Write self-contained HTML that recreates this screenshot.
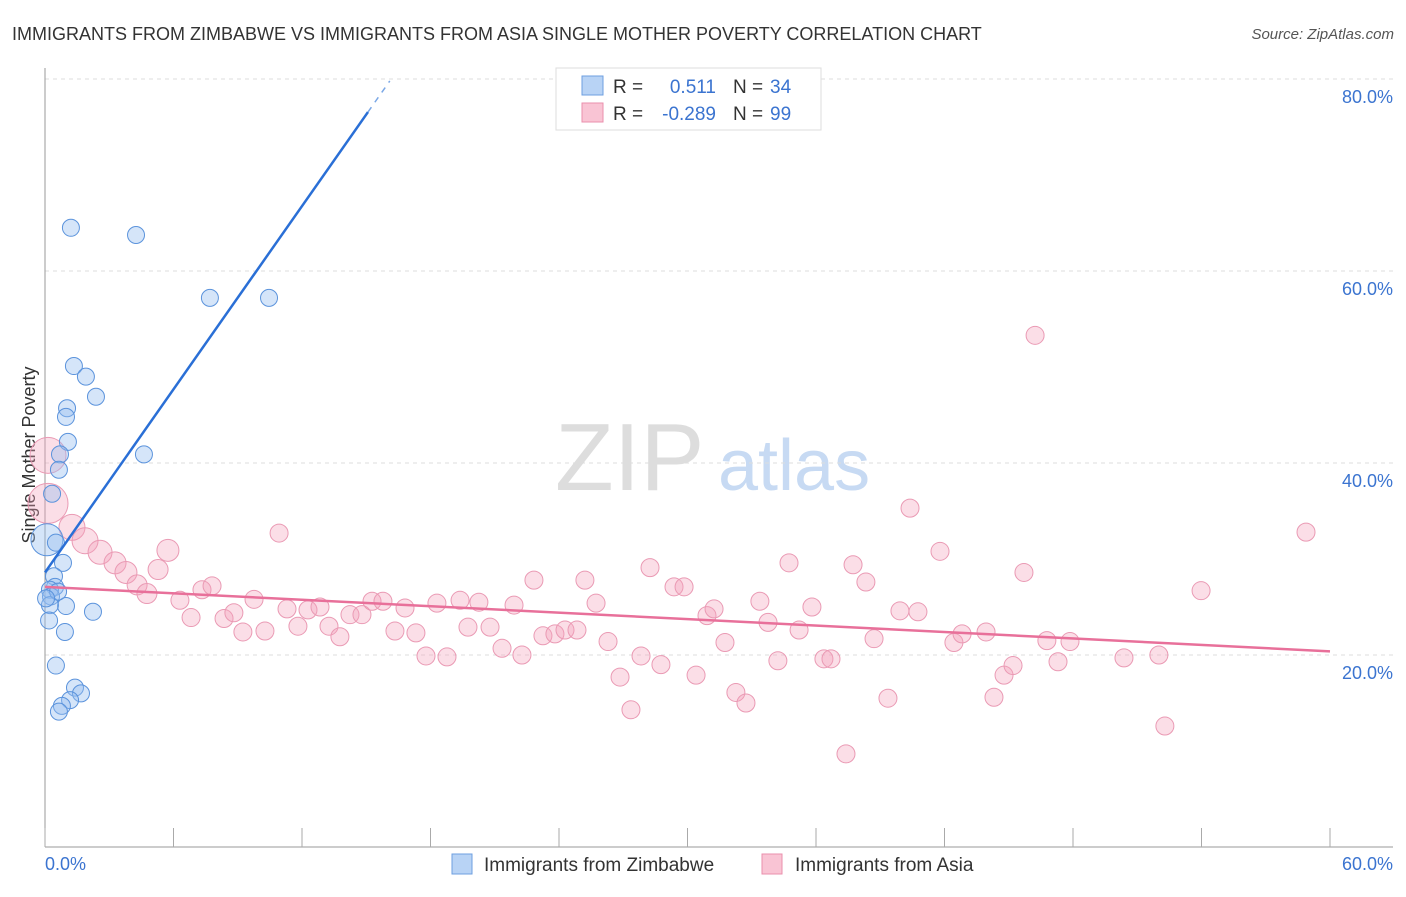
<!DOCTYPE html>
<html><head><meta charset="utf-8"><style>
body{margin:0;background:#fff;font-family:"Liberation Sans",sans-serif;}
svg text{font-family:"Liberation Sans",sans-serif;}
</style></head><body>
<svg width="1406" height="892" xmlns="http://www.w3.org/2000/svg">
<text x="12" y="40" font-size="18" fill="#333">IMMIGRANTS FROM ZIMBABWE VS IMMIGRANTS FROM ASIA SINGLE MOTHER POVERTY CORRELATION CHART</text>
<text x="1394" y="39" font-size="15" fill="#555" font-style="italic" text-anchor="end">Source: ZipAtlas.com</text>
<g>
<text x="555" y="490" font-size="96" fill="#ddd" font-family="Liberation Serif">ZIP</text>
<text x="718" y="490" font-size="72" fill="#c7daf3">atlas</text>
</g>
<g id="grid"></g>
<g id="axes"></g>
<text x="35" y="455" font-size="18" fill="#333" text-anchor="middle" transform="rotate(-90 35 455)">Single Mother Poverty</text>
<g id="pts"></g>
<g id="trends"></g>
<g>
<rect x="556" y="68" width="265" height="62" fill="#fff" stroke="#ddd"/>
<rect x="582" y="76" width="21" height="19" fill="#b8d3f5" stroke="#6e9fe0"/>
<rect x="582" y="103" width="21" height="19" fill="#f9c4d4" stroke="#ea8fac"/>
<text x="613" y="93" font-size="19" fill="#333">R =</text>
<text x="716" y="93" font-size="19" fill="#3b74d0" text-anchor="end">0.511</text>
<text x="733" y="93" font-size="19" fill="#333">N =</text>
<text x="770" y="93" font-size="19" fill="#3b74d0">34</text>
<text x="613" y="120" font-size="19" fill="#333">R =</text>
<text x="716" y="120" font-size="19" fill="#3b74d0" text-anchor="end">-0.289</text>
<text x="733" y="120" font-size="19" fill="#333">N =</text>
<text x="770" y="120" font-size="19" fill="#3b74d0">99</text>
</g>
<g>
<rect x="452" y="854" width="20" height="20" fill="#b8d3f5" stroke="#6e9fe0"/>
<text x="484" y="871" font-size="19" fill="#333">Immigrants from Zimbabwe</text>
<rect x="762" y="854" width="20" height="20" fill="#f9c4d4" stroke="#ea8fac"/>
<text x="795" y="871" font-size="19" fill="#333">Immigrants from Asia</text>
</g>
</svg>
<script>
const yTicks=[20,40,60,80];
const yTickLabels=["20.0%","40.0%","60.0%","80.0%"];
const xTickLabels=["0.0%","60.0%"];
const blueX=[1.21,4.25,7.70,10.46,1.35,1.91,2.38,1.03,0.98,1.07,0.70,4.62,0.65,0.33,0.09,0.51,0.84,0.42,0.47,0.23,0.28,0.98,2.24,0.23,0.19,0.93,0.51,1.40,1.68,1.17,0.79,0.65,0.61,0.05];
const blueY=[64.5,63.75,57.2,57.2,50.1,49.0,46.9,45.7,44.8,42.2,40.9,40.9,39.3,36.8,32.0,31.7,29.6,28.2,27.1,26.8,26.1,25.1,24.5,25.2,23.6,22.4,18.9,16.6,16.0,15.3,14.7,14.1,26.6,25.9];
const pinkX=[0.14,0.14,1.26,1.87,2.57,3.27,3.78,4.30,4.76,5.28,5.74,6.30,6.82,7.33,7.80,8.36,8.82,9.24,9.76,10.27,10.93,11.30,11.81,12.28,12.84,13.26,13.77,14.24,14.80,15.27,15.78,16.34,16.81,17.32,17.79,18.30,18.77,19.38,19.75,20.26,20.78,21.34,21.90,22.27,22.83,23.25,23.81,24.28,24.84,25.21,25.73,26.29,26.85,27.36,27.83,28.25,28.76,29.37,29.84,30.40,30.91,31.24,31.75,32.26,32.73,33.38,33.76,34.22,34.74,35.21,35.81,36.37,36.70,37.40,37.73,38.33,38.71,39.36,39.92,40.39,40.76,41.79,42.44,42.82,43.94,44.31,44.78,45.20,45.71,46.23,46.78,47.30,47.86,50.38,52.01,52.29,53.98,58.88];
const pinkY=[40.8,35.8,33.3,31.9,30.7,29.6,28.6,27.3,26.4,28.9,30.9,25.7,23.9,26.8,27.2,23.8,24.4,22.4,25.8,22.5,32.7,24.8,23.0,24.7,25.0,23.0,21.9,24.2,24.2,25.6,25.6,22.5,24.9,22.3,19.9,25.4,19.8,25.7,22.9,25.5,22.9,20.7,25.2,20.0,27.8,22.0,22.2,22.6,22.6,27.8,25.4,21.4,17.7,14.3,19.9,29.1,19.0,27.1,27.1,17.9,24.1,24.8,21.3,16.1,15.0,25.6,23.4,19.4,29.6,22.6,25.0,19.6,19.6,9.7,29.4,27.6,21.7,15.5,24.6,35.3,24.5,30.8,21.3,22.2,22.4,15.6,17.9,18.9,28.6,53.3,21.5,19.3,21.4,19.7,20.0,12.6,26.7,32.8];
const pinkBig=[18,20,13,13,12,11,11,10,10,10,11];
const blueTrend=[28.6,3.18]; // intercept, slope
const pinkTrend=[27.1,-0.112];
const NS="http://www.w3.org/2000/svg";
const X0=45,X1=1330,Y0=847,PXY=9.6;
function sx(v){return X0+v/60*(X1-X0);}
function sy(v){return Y0-v*PXY;}
function mk(tag,attrs,parent){const e=document.createElementNS(NS,tag);for(const k in attrs)e.setAttribute(k,attrs[k]);parent.appendChild(e);return e;}
const grid=document.getElementById('grid'),axes=document.getElementById('axes');
yTicks.forEach((t,i)=>{
 const l=mk('line',{x1:45,x2:1393,y1:sy(t),y2:sy(t),stroke:'#ddd','stroke-dasharray':'4,4'},grid);
 
 
 const tx=mk('text',{x:1393,y:sy(t)+24,'font-size':18,fill:'#3b74d0','text-anchor':'end'},axes);
 tx.textContent=yTickLabels[i];
 
 
});
mk('line',{x1:45,x2:45,y1:68,y2:847,stroke:'#999'},axes);
mk('line',{x1:45,x2:1393,y1:847,y2:847,stroke:'#999'},axes);
for(let i=0;i<=10;i++){const x=sx(i*6);mk('line',{x1:x,x2:x,y1:828,y2:847,stroke:'#aaa'},axes);}
const xl0=mk('text',{x:45,y:870,'font-size':18,fill:'#3b74d0'},axes);xl0.textContent=xTickLabels[0];


const xl1=mk('text',{x:1393,y:870,'font-size':18,fill:'#3b74d0','text-anchor':'end'},axes);xl1.textContent=xTickLabels[1];


const pts=document.getElementById('pts');
pinkX.forEach((v,i)=>{
 const c=mk('circle',{cx:sx(v),cy:sy(pinkY[i]),r:pinkBig[i]||9,fill:'rgba(244,160,186,0.35)',stroke:'#ea9ab4','stroke-width':1},pts);
 
 
});
blueX.forEach((v,i)=>{
 const c=mk('circle',{cx:sx(v),cy:sy(blueY[i]),r:i==14?16:8.5,fill:'rgba(150,190,240,0.4)',stroke:'#5b93dc','stroke-width':1},pts);
 
 
});
const tr=document.getElementById('trends');
const bEnd=15.08,bEnd2=16.1;
const b1=mk('line',{x1:sx(0),y1:sy(blueTrend[0]),x2:sx(bEnd),y2:sy(blueTrend[0]+blueTrend[1]*bEnd),stroke:'#2a6fd6','stroke-width':2.5},tr);


const b2=mk('line',{x1:sx(bEnd),y1:sy(blueTrend[0]+blueTrend[1]*bEnd),x2:sx(bEnd2),y2:sy(blueTrend[0]+blueTrend[1]*bEnd2),stroke:'#7aa7e6','stroke-width':1.5,'stroke-dasharray':'6,6'},tr);


const p1=mk('line',{x1:sx(0),y1:sy(pinkTrend[0]),x2:sx(60),y2:sy(pinkTrend[0]+pinkTrend[1]*60),stroke:'#e8709a','stroke-width':2.5},tr);


</script>
</body></html>
